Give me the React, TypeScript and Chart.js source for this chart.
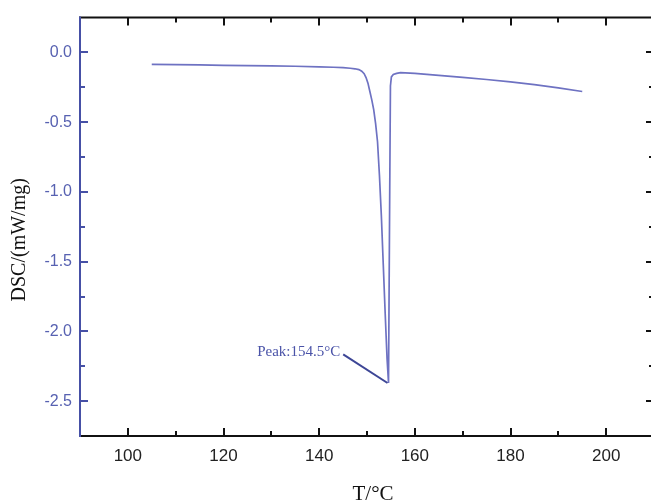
import React, { useEffect, useRef } from "react";
import { Chart, registerables } from "chart.js";

Chart.register(...registerables);

// ---- data ----
const temperature = [
  105, 110, 115, 120, 125, 130, 135, 140, 143, 145, 146.5, 147.5, 148.3, 148.9, 149.4, 149.8,
  150.2, 150.6, 151.0, 151.4, 151.8, 152.2, 152.6, 153.0, 153.4, 153.8, 154.2, 154.5, 154.75,
  154.9, 155.1, 155.5, 156.2, 157, 160, 165, 170, 175, 180, 185, 190, 195,
];
const dsc = [
  -0.085, -0.087, -0.089, -0.092, -0.094, -0.096, -0.099, -0.103, -0.106, -0.109, -0.113, -0.117,
  -0.123, -0.134, -0.152, -0.18, -0.22, -0.28, -0.34, -0.41, -0.51, -0.64, -0.88, -1.17, -1.52,
  -1.87, -2.2, -2.37, -1.0, -0.24, -0.175, -0.158, -0.15, -0.145, -0.15, -0.164, -0.179, -0.194,
  -0.211, -0.231, -0.254, -0.28,
];
const xMajorTicks = [100, 120, 140, 160, 180, 200];
const xMinorTicks = [110, 130, 150, 170, 190];
const yMajorTicks = [0, -0.5, -1, -1.5, -2, -2.5];
const yMinorTicks = [-0.25, -0.75, -1.25, -1.75, -2.25];
const xRange = [90, 210];
const yRange = [-2.75, 0.25];
const peakPoint = [154.5, -2.37];
const peakLabelPoint = [144.4, -2.15];
const peakLabel = "Peak:154.5°C";
const xTitle = "T/°C";
const yTitle = "DSC/(mW/mg)";

const BLUE_AXIS = "#4650a6";
const BLUE_LABEL = "#5761b1";
const CURVE = "#6e72c2";
const SANS = "'Liberation Sans', Arial, sans-serif";
const SERIF = "'Liberation Serif', 'Times New Roman', serif";

const framePlugin = {
  id: "frame",
  afterDraw(chart: any) {
    const { ctx, chartArea, scales } = chart;
    const { left, right, top, bottom } = chartArea;
    const x = scales.x;
    const y = scales.y;
    const seg = (x1: number, y1: number, x2: number, y2: number) => {
      ctx.beginPath();
      ctx.moveTo(x1, y1);
      ctx.lineTo(x2, y2);
      ctx.stroke();
    };
    ctx.save();
    ctx.lineCap = "butt";
    // frame
    ctx.lineWidth = 2;
    ctx.strokeStyle = "#111";
    seg(left - 1, top, right + 1, top);
    seg(left - 1, bottom, right + 1, bottom);
    seg(right, top, right, bottom);
    ctx.strokeStyle = BLUE_AXIS;
    seg(left, top - 1, left, bottom + 1);

    const MAJ = 8;
    const MIN = 5;
    ctx.strokeStyle = "#111";
    ctx.lineWidth = 2;
    xMajorTicks.forEach((v) => {
      const px = Math.round(x.getPixelForValue(v));
      seg(px, bottom, px, bottom - MAJ);
      seg(px, top, px, top + MAJ);
    });
    xMinorTicks.forEach((v) => {
      const px = Math.round(x.getPixelForValue(v));
      seg(px, bottom, px, bottom - MIN);
      seg(px, top, px, top + MIN);
    });
    yMajorTicks.forEach((v) => {
      const py = Math.round(y.getPixelForValue(v));
      seg(right, py, right - MAJ, py);
    });
    yMinorTicks.forEach((v) => {
      const py = Math.round(y.getPixelForValue(v));
      seg(right, py, right - MIN, py);
    });
    ctx.strokeStyle = BLUE_AXIS;
    yMajorTicks.forEach((v) => {
      const py = Math.round(y.getPixelForValue(v));
      seg(left, py, left + MAJ, py);
    });
    yMinorTicks.forEach((v) => {
      const py = Math.round(y.getPixelForValue(v));
      seg(left, py, left + MIN, py);
    });

    // peak annotation
    const lx = x.getPixelForValue(peakLabelPoint[0]);
    const ly = y.getPixelForValue(peakLabelPoint[1]);
    const tx = x.getPixelForValue(peakPoint[0]);
    const ty = y.getPixelForValue(peakPoint[1]);
    ctx.strokeStyle = "#3d4696";
    ctx.lineWidth = 2;
    seg(lx + 3, ly + 2, tx - 1, ty);
    ctx.fillStyle = "#4a53a8";
    ctx.font = `15px ${SERIF}`;
    ctx.textAlign = "right";
    ctx.textBaseline = "middle";
    ctx.fillText(peakLabel, lx, ly);

    // axis titles
    ctx.fillStyle = "#111";
    ctx.font = `21px ${SERIF}`;
    ctx.textAlign = "center";
    ctx.textBaseline = "alphabetic";
    ctx.fillText(xTitle, (left + right) / 2 + 6, 500);

    ctx.save();
    ctx.translate(25, (top + bottom) / 2 + 13);
    ctx.rotate(-Math.PI / 2);
    ctx.font = `20px ${SERIF}`;
    ctx.fillText(yTitle, 0, 0);
    ctx.restore();

    ctx.restore();
  },
};

export default function App() {
  const ref = useRef<HTMLCanvasElement | null>(null);

  useEffect(() => {
    if (!ref.current) return;
    const points = temperature.map((t, i) => ({ x: t, y: dsc[i] }));
    const chart = new Chart(ref.current, {
      type: "scatter",
      data: {
        datasets: [
          {
            data: points,
            showLine: true,
            borderColor: CURVE,
            borderWidth: 1.7,
            pointRadius: 0,
            tension: 0,
            fill: false,
          },
        ],
      },
      options: {
        animation: false,
        responsive: false,
        events: [],
        layout: { padding: { left: 0, top: 16, right: 6, bottom: 0 } },
        plugins: { legend: { display: false }, tooltip: { enabled: false } },
        scales: {
          x: {
            type: "linear",
            min: xRange[0],
            max: xRange[1],
            grid: { display: false, drawTicks: false },
            border: { display: false },
            afterBuildTicks: (s: any) => {
              s.ticks = xMajorTicks.map((v) => ({ value: v }));
            },
            afterFit: (s: any) => {
              s.height = 67;
            },
            ticks: {
              padding: 10,
              maxRotation: 0,
              autoSkip: false,
              color: "#222",
              font: { family: SANS, size: 17 },
              callback: (v: any) => String(v),
            },
            title: { display: false },
          },
          y: {
            type: "linear",
            min: yRange[0],
            max: yRange[1],
            grid: { display: false, drawTicks: false },
            border: { display: false },
            afterBuildTicks: (s: any) => {
              s.ticks = yMajorTicks.map((v) => ({ value: v }));
            },
            afterFit: (s: any) => {
              s.width = 80;
            },
            ticks: {
              padding: 8,
              autoSkip: false,
              color: BLUE_LABEL,
              font: { family: SANS, size: 16 },
              callback: (v: any) => Number(v).toFixed(1),
            },
            title: { display: false },
          },
        },
      },
      plugins: [framePlugin],
    });
    return () => chart.destroy();
  }, []);

  return (
    <div
      style={{
        position: "fixed",
        left: 0,
        top: 0,
        width: 651,
        height: 503,
        overflow: "hidden",
        background: "#fff",
      }}
    >
      <canvas ref={ref} width={660} height={503} style={{ display: "block" }} />
    </div>
  );
}
